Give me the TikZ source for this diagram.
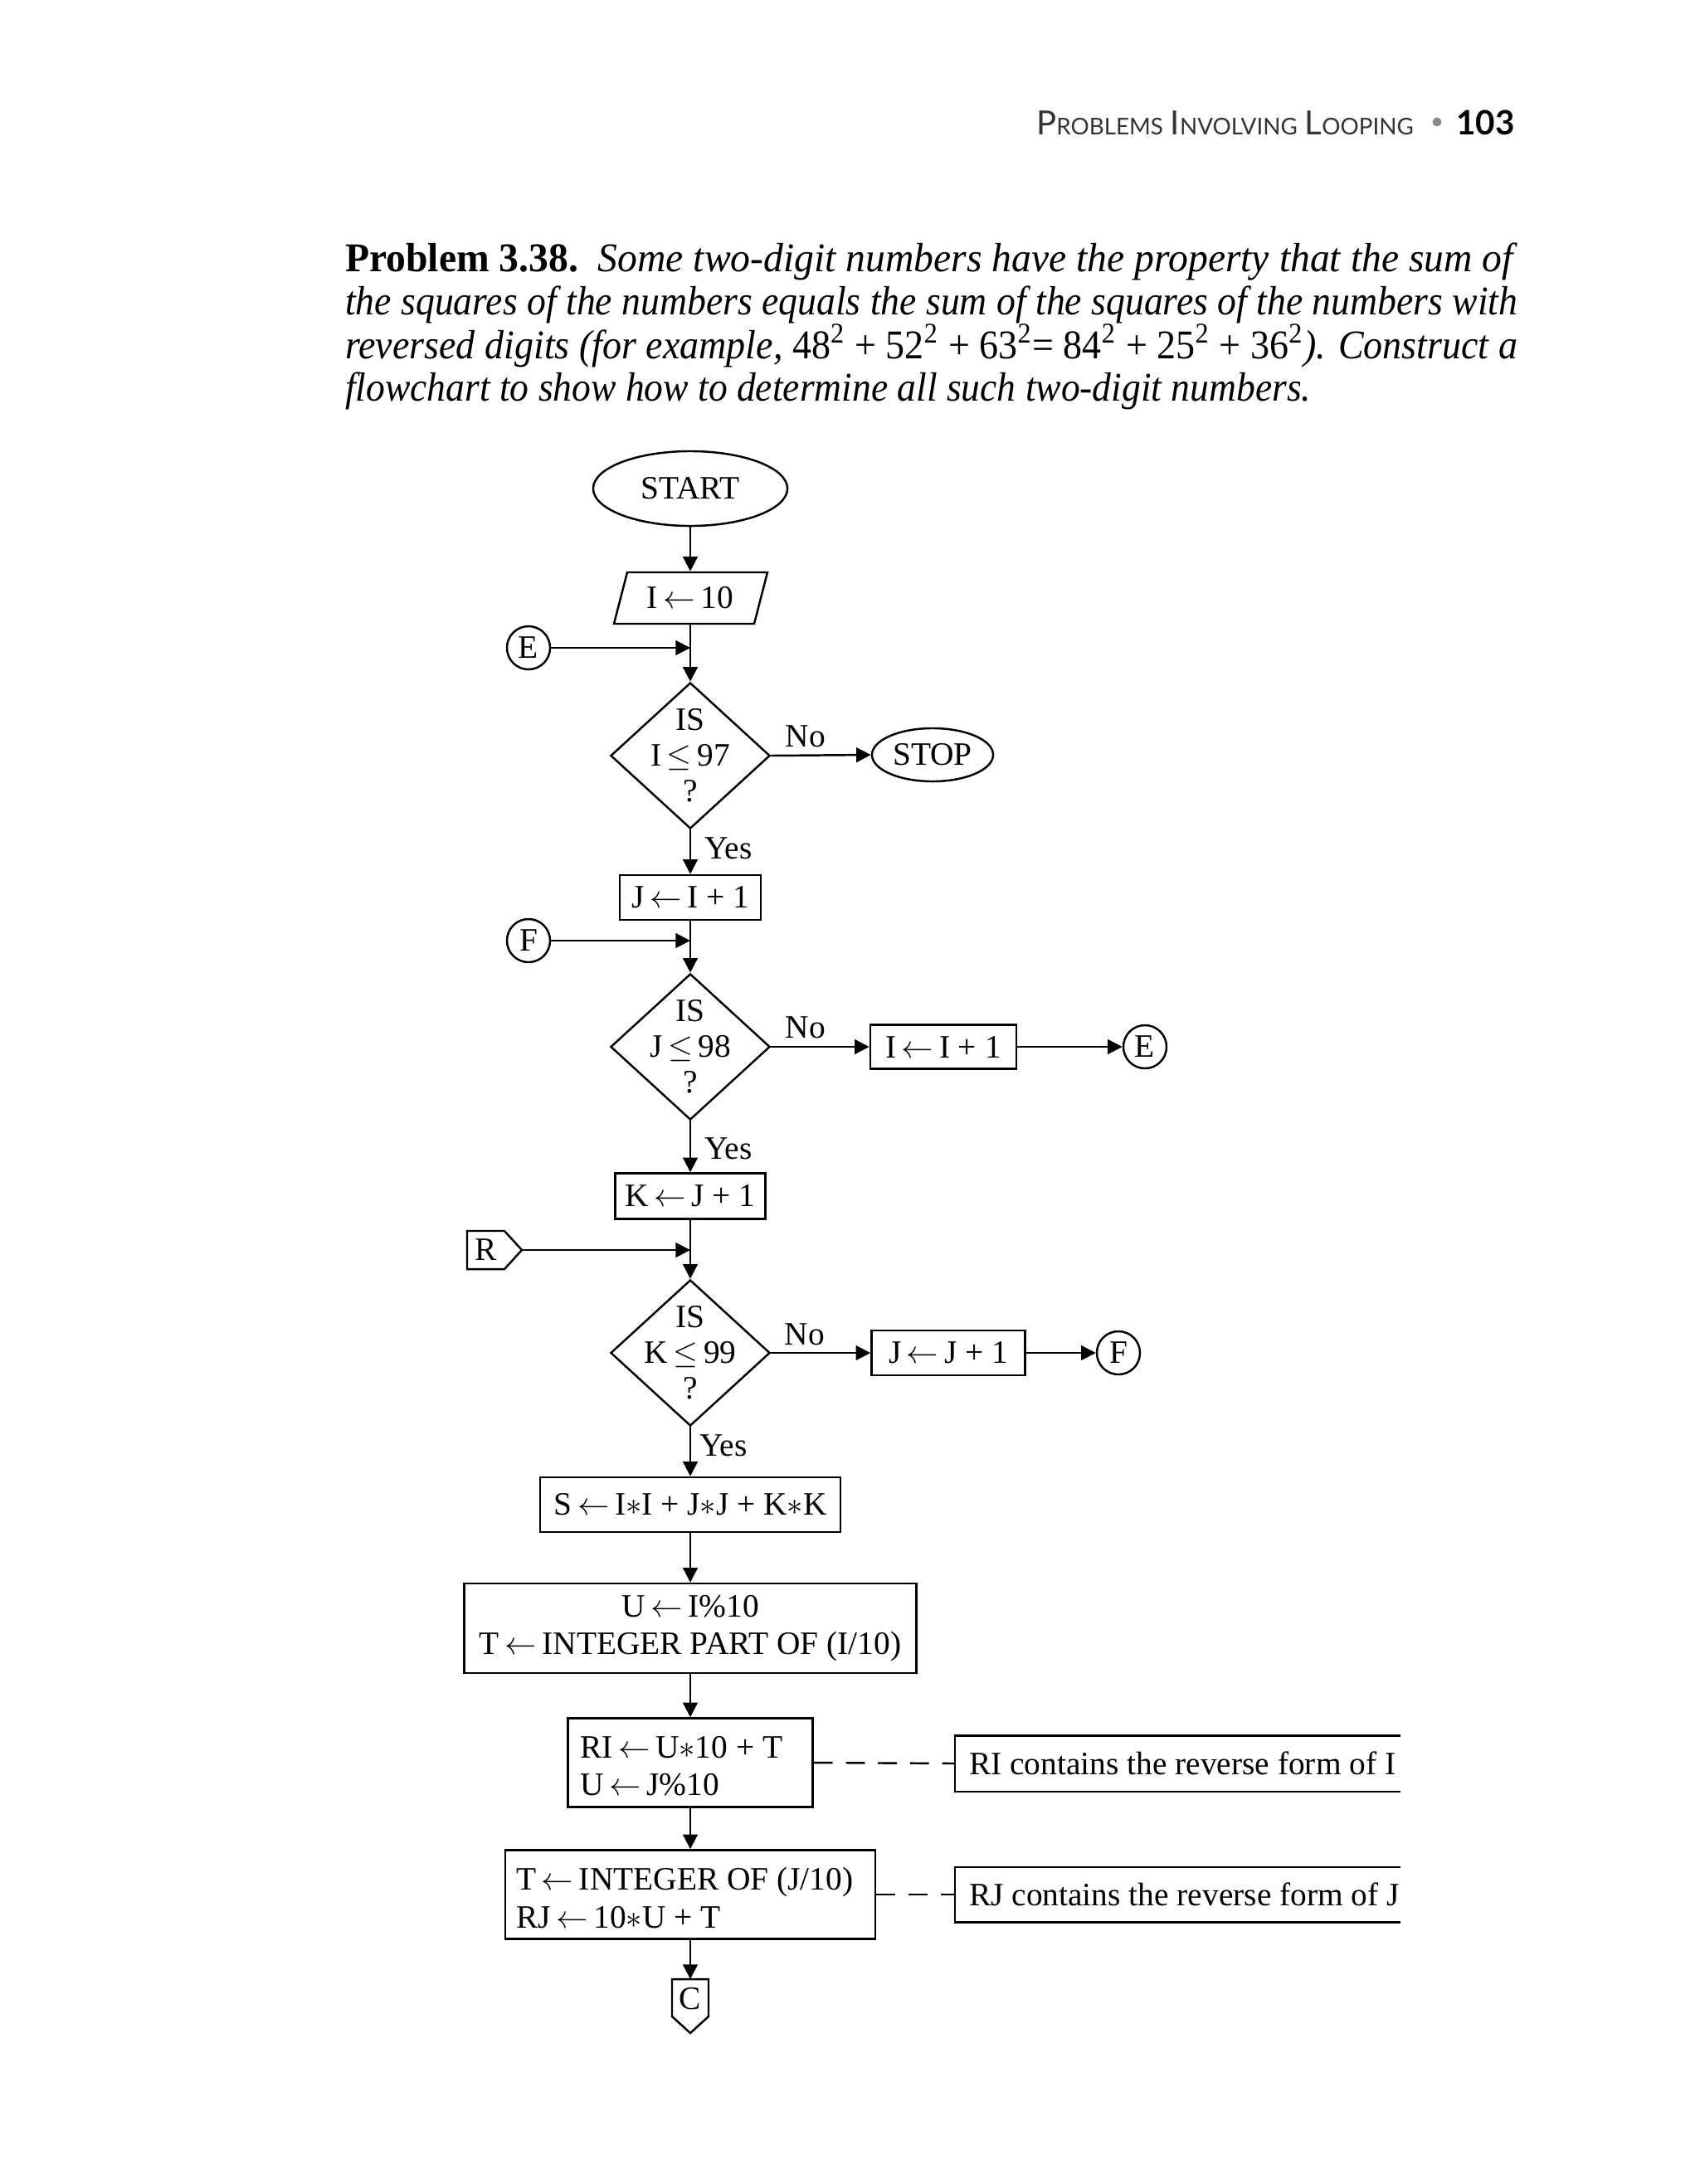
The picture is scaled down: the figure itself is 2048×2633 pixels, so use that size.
\documentclass[tikz,border=0pt]{standalone}
\usepackage{fontspec}
\setmainfont{Liberation Serif}
\newfontfamily\hdrfont{Lato}
\usepackage{graphicx}
\usetikzlibrary{shapes.geometric,arrows.meta}
\newsavebox\fitbox
\newcommand\fitline[2]{\sbox\fitbox{#2}\ifdim\wd\fitbox>#1\relax\resizebox{#1}{\ht\fitbox}{\usebox\fitbox}\else\makebox[#1][s]{#2}\fi}
\newcommand\ptext{\fontsize{14}{14.8}\selectfont}
\newcommand\fcf{\fontsize{11.2}{12.2}\selectfont}
\newcommand\hsc[2]{{\fontsize{11.4pt}{12pt}\selectfont #1}{\fontsize{7.9pt}{12pt}\selectfont #2}}
\newcommand\la{\,$\leftarrow$\,}
\definecolor{hdrgray}{HTML}{333333}
\definecolor{dotgray}{HTML}{8A8A8A}
\begin{document}
\begin{tikzpicture}[x=0.01cm,y=-0.01cm,line width=0.7pt,font=\fcf,
  box/.style={draw,rectangle,inner sep=0pt},
  conn/.style={draw,circle,minimum size=0.52cm,inner sep=0pt},
  term/.style={draw,ellipse,inner sep=0pt},
  dia/.style={draw,diamond,inner sep=0pt,minimum width=1.92cm,minimum height=1.76cm},
  lbl/.style={inner sep=0pt},
  dtext/.style={inner sep=0pt,align=center,font=\fontsize{11.2}{12.2}\selectfont},
  arr/.style={-{Triangle[length=5pt,width=5pt]}},
  dsh/.style={dash pattern=on 6.5pt off 4.5pt}]
\useasboundingbox (0,0) rectangle (2048,2633);

% header
\node[anchor=base west,inner sep=0pt,font=\hdrfont,text=hdrgray] (hdr) at (1248,162)
  {\hsc{P}{ROBLEMS} \hsc{I}{NVOLVING} \hsc{L}{OOPING}};
\node[circle,fill=dotgray,minimum size=0.11cm,inner sep=0pt] (dot) at (1732,147) {};
\node[anchor=base east,inner sep=0pt,font=\hdrfont\bfseries\fontsize{11.5}{12}\selectfont] (pg) at (1827,162) {103};

% problem text
\node[anchor=base west,inner sep=0pt] (p1) at (415,327)
  {\ptext\fitline{401.8pt}{\textbf{Problem 3.38.}\ \ \textit{Some two-digit numbers have the property that the sum of}}};
\node[anchor=base west,inner sep=0pt] (p2) at (415,379)
  {\ptext\fitline{401.8pt}{\textit{the squares of the numbers equals the sum of the squares of the numbers with}}};
\node[anchor=base west,inner sep=0pt] (p3) at (415,432)
  {\ptext\fitline{401.8pt}{\textit{reversed digits (for example, }48\textsuperscript{2} + 52\textsuperscript{2} + 63\textsuperscript{2}= 84\textsuperscript{2} + 25\textsuperscript{2} + 36\textsuperscript{2}\textit{). Construct a}}};
\node[anchor=base west,inner sep=0pt] (p4) at (415,483)
  {\ptext\scalebox{0.925}[1]{\textit{flowchart to show how to determine all such two-digit numbers.}}};

% flowchart nodes
\node[term,minimum width=2.34cm,minimum height=0.90cm] (start) at (832,589) {START};
\node[inner sep=0pt,minimum width=1.85cm,minimum height=0.62cm] (init) at (832,721) {I\la 10};
\draw (740,752) -- (909,752) -- (925,690) -- (756,690) -- cycle;

\node[conn] (E1) at (637,781) {E};
\coordinate (jE) at (832,781);
\node[dia] (d1) at (832,911) {};
\node[dtext] (d1t) at (832,911) {IS\\I\,$\le$\,97\\?};
\node[term,minimum width=1.46cm,minimum height=0.64cm] (stop) at (1124,910) {STOP};
\node[lbl] (no1) at (971,888) {No};
\node[lbl,anchor=west] (yes1) at (848,1023) {Yes};

\node[box,minimum width=1.70cm,minimum height=0.54cm] (j1) at (832,1082) {J\la I + 1};
\node[conn] (F1) at (637,1134) {F};
\coordinate (jF) at (832,1134);
\node[dia] (d2) at (832,1262) {};
\node[dtext] (d2t) at (832,1262) {IS\\J\,$\le$\,98\\?};
\node[lbl] (no2) at (971,1239) {No};
\node[box,minimum width=1.76cm,minimum height=0.53cm] (i1) at (1137,1262) {I\la I + 1};
\node[conn] (E2) at (1380,1262) {E};
\node[lbl,anchor=west] (yes2) at (848,1385) {Yes};

\node[box,minimum width=1.81cm,minimum height=0.55cm] (k1) at (832,1442) {K\la J + 1};
\draw (563,1484) -- (608,1484) -- (629,1507) -- (608,1530) -- (563,1530) -- cycle;
\node[lbl] (R) at (586,1507) {R};
\coordinate (Rtip) at (629,1507);
\coordinate (jR) at (832,1507);
\node[dia] (d3) at (832,1631) {};
\node[dtext] (d3t) at (832,1631) {IS\\K\,$\le$\,99\\?};
\node[lbl] (no3) at (970,1609) {No};
\node[box,minimum width=1.85cm,minimum height=0.54cm] (j2) at (1143,1631) {J\la J + 1};
\node[conn] (F2) at (1348,1631) {F};
\node[lbl,anchor=west] (yes3) at (842,1743) {Yes};

\node[box,minimum width=3.62cm,minimum height=0.66cm] (s) at (832,1814) {S\la I$*$I + J$*$J + K$*$K};
\node[box,minimum width=5.45cm,minimum height=1.08cm,align=center,font=\fontsize{11.2}{12.8}\selectfont] (u) at (832,1963)
  {U\la I\%10\\T\la INTEGER PART OF (I/10)};

\node[box,minimum width=2.95cm,minimum height=1.07cm] (ri) at (832,2125) {};
\node[lbl,anchor=west,align=left,font=\fontsize{11.2}{12.8}\selectfont] (rit) at (698,2129)
  {RI\la U$*$10 + T\\U\la J\%10};
\node[inner sep=0pt,minimum width=5.34cm,minimum height=0.65cm,anchor=west] (ricom) at (1151,2126) {};
\draw (ricom.north east) -- (ricom.north west) -- (ricom.south west) -- (ricom.south east);
\node[lbl,anchor=west] (ricomt) at (1167,2126) {RI contains the reverse form of I};

\node[box,minimum width=4.46cm,minimum height=1.07cm] (rj) at (832,2284) {};
\node[lbl,anchor=west,align=left,font=\fontsize{11.2}{12.8}\selectfont] (rjt) at (621,2288)
  {T\la INTEGER OF (J/10)\\RJ\la 10$*$U + T};
\node[inner sep=0pt,minimum width=5.34cm,minimum height=0.64cm,anchor=west] (rjcom) at (1151,2284) {};
\draw (rjcom.north east) -- (rjcom.north west) -- (rjcom.south west) -- (rjcom.south east);
\node[lbl,anchor=west] (rjcomt) at (1167,2284) {RJ contains the reverse form of J};

\draw (810,2386) -- (854,2386) -- (854,2431) -- (832,2451) -- (810,2431) -- cycle;
\node[lbl] (C) at (832,2410) {C};
\coordinate (Ctop) at (832,2386);

% connectors
\draw[arr] (start.south) -- (init.north);
\draw[arr] (init.south) -- (d1.north);
\draw[arr] (E1.east) -- (jE);
\draw[arr] (d1.east) -- (stop.west);
\draw[arr] (d1.south) -- (j1.north);
\draw[arr] (j1.south) -- (d2.north);
\draw[arr] (F1.east) -- (jF);
\draw[arr] (d2.east) -- (i1.west);
\draw[arr] (i1.east) -- (E2.west);
\draw[arr] (d2.south) -- (k1.north);
\draw[arr] (k1.south) -- (d3.north);
\draw[arr] (Rtip) -- (jR);
\draw[arr] (d3.east) -- (j2.west);
\draw[arr] (j2.east) -- (F2.west);
\draw[arr] (d3.south) -- (s.north);
\draw[arr] (s.south) -- (u.north);
\draw[arr] (u.south) -- (ri.north);
\draw[arr] (ri.south) -- (rj.north);
\draw[arr] (rj.south) -- (Ctop);
\draw[dsh] (ri.east) -- (ricom.west);
\draw[dsh] (rj.east) -- (rjcom.west);
\end{tikzpicture}
\end{document}
